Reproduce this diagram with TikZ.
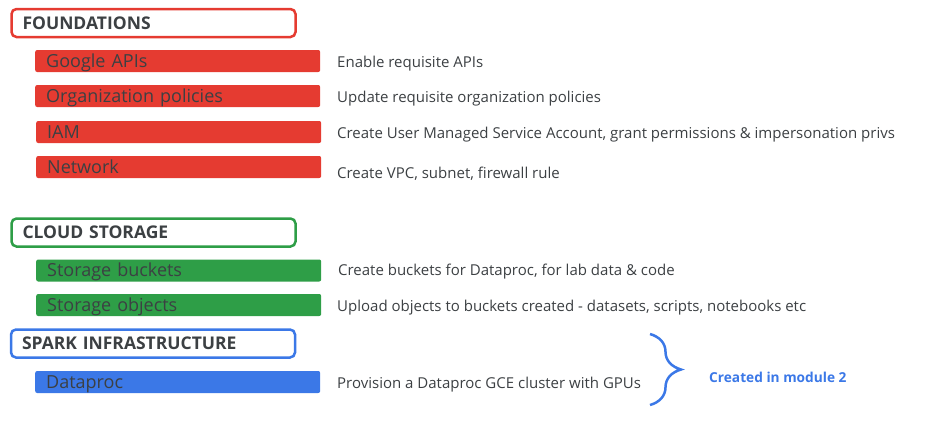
\documentclass[tikz,border=0pt]{standalone}
\usepackage{fontspec}
\setmainfont{Open Sans}
\usepackage{tikz}
\usetikzlibrary{
    positioning,
    decorations.pathreplacing
}
\definecolor{gred}{HTML}{E53B31}
\definecolor{ggreen}{HTML}{2E9E47}
\definecolor{gblue}{HTML}{3B78E7}
\definecolor{gtext}{HTML}{3C4043}
\tikzset{
    head/.style={draw=#1, line width=2.5pt, rounded corners=5pt, fill=white, anchor=west,
        minimum width=284pt, minimum height=28pt, inner xsep=11pt, text width=262pt, align=left,
        text height=12.6pt, text depth=0pt, text=gtext, font=\fontsize{17.5}{20}\selectfont\bfseries},
    item/.style={fill=#1, rounded corners=2pt, anchor=west, minimum width=285pt, minimum height=22pt,
        inner xsep=11pt, text width=263pt, align=left, text height=12.8pt, text depth=0pt,
        text=gtext, font=\fontsize{18}{20}\selectfont},
    desc/.style={anchor=base west, inner sep=0pt, text=gtext, font=\fontsize{15}{18}\selectfont}
}

\begin{document}
\begin{tikzpicture}[x=1pt, y=-1pt]
        \useasboundingbox (0,0) rectangle (925,421);

        \draw (10.25,23) node[head=gred](found){FOUNDATIONS};
        \draw (35,61) node[item=gred](apis){Google APIs};
        \draw (35,96) node[item=gred](orgpol){Organization policies};
        \draw (36,132) node[item=gred](iam){IAM};
        \draw (36,167) node[item=gred](net){Network};

        \draw (10.25,232.5) node[head=ggreen](storage){CLOUD STORAGE};
        \draw (36,270.5) node[item=ggreen](buckets){Storage buckets};
        \draw (36,305) node[item=ggreen](objects){Storage objects};

        \draw (9.75,343.5) node[head=gblue](spark){SPARK INFRASTRUCTURE};
        \draw (35,382) node[item=gblue](dproc){Dataproc};

        \draw (337,67.7) node[desc](apisd){Enable requisite APIs};
        \draw (337,102.7) node[desc](orgpold){Update requisite organization policies};
        \draw (337,138.5) node[desc](iamd){Create User Managed Service Account, grant permissions \& impersonation privs};
        \draw (337,178.3) node[desc](netd){Create VPC, subnet, firewall rule};
        \draw (338,275.5) node[desc](bucketsd){Create buckets for Dataproc, for lab data \& code};
        \draw (337,311.5) node[desc](objectsd){Upload objects to buckets created - datasets, scripts, notebooks etc};
        \draw (337,388.5) node[desc](dprocd){Provision a Dataproc GCE cluster with GPUs};

        \coordinate (bt) at (650,334);
        \coordinate (bb) at (650,405);
        \draw[gblue, line width=2.5pt, decorate, decoration={brace, amplitude=31pt}] (bt) to (bb);
        \draw (709,377) node[anchor=west, inner sep=0pt, text=gblue, font=\fontsize{13.7}{16}\selectfont\bfseries](mod){Created in module 2};
    \end{tikzpicture}
\end{document}
